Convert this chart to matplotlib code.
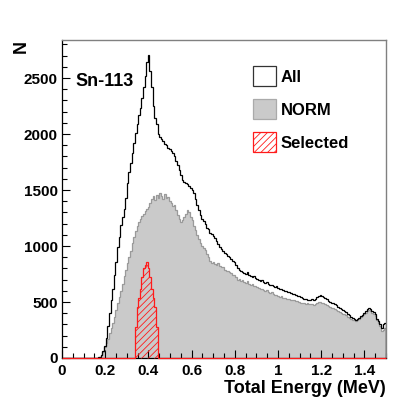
import numpy as np
import matplotlib
matplotlib.use("Agg")
import matplotlib.pyplot as plt
from matplotlib.patches import Patch

# ---------------- data ----------------
e_min, e_max, n_bins = 0.0, 1.5, 200   # energy binning (MeV)

all_counts = [0] * 20 + [
    0, 2, 5, 12, 30, 60, 110, 180, 290, 400,
    518, 620, 740, 860, 990, 1080, 1190, 1260, 1330, 1430,
    1560, 1660, 1740, 1830, 1920, 2010, 2090, 2170, 2230, 2320,
    2420, 2520, 2640, 2705, 2560, 2420, 2250, 2140, 2090, 2000,
    1970, 1960, 1935, 1910, 1900, 1880, 1865, 1850, 1830, 1800,
    1760, 1720, 1680, 1635, 1590, 1575, 1560, 1550, 1535, 1520,
    1500, 1475, 1420, 1370, 1320, 1275, 1245, 1220, 1195, 1165,
    1150, 1120, 1110, 1090, 1075, 1045, 1020, 995, 975, 960,
    935, 925, 910, 900, 880, 870, 855, 830, 800, 790,
    775, 770, 760, 750, 765, 745, 735, 725, 730, 715,
    705, 700, 690, 695, 680, 670, 675, 660, 650, 655,
    640, 635, 640, 625, 615, 620, 605, 600, 595, 590,
    585, 580, 570, 575, 560, 555, 550, 545, 540, 530,
    525, 520, 515, 520, 525, 520, 530, 545, 555, 562,
    555, 545, 540, 525, 510, 500, 495, 488, 480, 470,
    455, 450, 440, 430, 420, 410, 395, 385, 370, 360,
    345, 340, 350, 360, 375, 385, 400, 420, 440, 446,
    435, 420, 410, 390, 350, 330, 300, 270, 300, 310,
]

norm_counts = [0] * 20 + [
    0, 0, 2, 8, 25, 50, 95, 130, 170, 220,
    265, 310, 370, 430, 490, 545, 600, 660, 730, 790,
    850, 900, 960, 1030, 1080, 1130, 1180, 1215, 1240, 1265,
    1290, 1310, 1330, 1350, 1380, 1420, 1445, 1410, 1460, 1430,
    1470, 1445, 1420, 1465, 1430, 1440, 1400, 1380, 1360, 1370,
    1320, 1280, 1240, 1215, 1230, 1260, 1290, 1320, 1300, 1260,
    1230, 1180, 1140, 1100, 1060, 1030, 1000, 985, 965, 930,
    900, 870, 845, 860, 840, 830, 845, 820, 815, 810,
    790, 780, 775, 770, 755, 745, 740, 720, 700, 705,
    690, 695, 680, 670, 685, 665, 655, 660, 645, 640,
    630, 625, 615, 620, 607, 600, 605, 590, 580, 585,
    570, 560, 565, 550, 545, 550, 540, 535, 530, 525,
    530, 520, 515, 520, 510, 505, 500, 495, 495, 490,
    485, 488, 480, 485, 478, 475, 485, 495, 503, 500,
    495, 490, 480, 470, 460, 455, 450, 444, 440, 430,
    420, 415, 405, 395, 390, 380, 370, 360, 350, 340,
    335, 330, 340, 350, 365, 375, 390, 405, 420, 429,
    420, 405, 395, 375, 340, 315, 285, 240, 250, 270,
]

selected_counts = [0] * 45 + [
    280, 455, 535, 620, 725, 800, 830, 860, 800, 725, 620, 535, 455, 280,
] + [0] * 141

x_ticks = [0, 0.2, 0.4, 0.6, 0.8, 1.0, 1.2, 1.4]
x_tick_labels = ["0", "0.2", "0.4", "0.6", "0.8", "1", "1.2", "1.4"]
y_ticks = [0, 500, 1000, 1500, 2000, 2500]
y_tick_labels = ["0", "500", "1000", "1500", "2000", "2500"]
legend_labels = ["All", "NORM", "Selected"]
source_label = "Sn-113"

# ---------------- plot ----------------
plt.rcParams["font.family"] = ["Liberation Sans", "DejaVu Sans"]
plt.rcParams["font.weight"] = "bold"
plt.rcParams["hatch.linewidth"] = 0.6

fig = plt.figure(figsize=(4.15, 3.99), dpi=100)
ax = fig.add_axes([0.1494, 0.1028, 0.7806, 0.7969])

edges = np.linspace(e_min, e_max, n_bins + 1)
grey_fill = "#cacaca"
grey_line = "#9a9a9a"

ax.stairs(norm_counts, edges, fill=True, color=grey_fill, zorder=1)
ax.stairs(norm_counts, edges, color=grey_line, lw=0.9, zorder=2)
ax.stairs(all_counts, edges, color="black", lw=0.9, zorder=3)
ax.stairs(selected_counts, edges, fill=True, facecolor="none",
          edgecolor="#ff1a1a", hatch="/////", lw=0.9, zorder=4, clip_on=False)

ax.set_xlim(0, 1.5)
ax.set_ylim(0, 2840)

ax.set_xticks(x_ticks)
ax.set_xticklabels(x_tick_labels)
ax.set_yticks(y_ticks)
ax.set_yticklabels(y_tick_labels)
ax.set_xticks(np.arange(0, 1.5001, 0.05), minor=True)
ax.set_yticks(np.arange(0, 2801, 100), minor=True)

ax.tick_params(axis="both", which="both", direction="in", top=False, right=False,
               labelsize=11, width=0.8)
ax.tick_params(axis="both", which="major", length=6, pad=3)
ax.tick_params(axis="both", which="minor", length=3.5)
ax.tick_params(axis="x", which="major", pad=4)

for side in ("top", "right"):
    ax.spines[side].set_color("#808080")
    ax.spines[side].set_linewidth(1.0)
for side in ("left", "bottom"):
    ax.spines[side].set_color("black")
    ax.spines[side].set_linewidth(0.9)

ax.set_xlabel("Total Energy (MeV)", fontsize=13, fontweight="bold", loc="right",
              labelpad=2)
ax.set_ylabel("N", fontsize=13, fontweight="bold", loc="top")
ax.yaxis.set_label_coords(-0.1, 1.0)

ax.text(0.04, 0.87, source_label, transform=ax.transAxes, fontsize=13,
        fontweight="bold", va="center", ha="left")

handles = [
    Patch(facecolor="white", edgecolor="#333333", lw=0.9),
    Patch(facecolor=grey_fill, edgecolor="#aaaaaa", lw=0.9),
    Patch(facecolor="white", edgecolor="#ff1a1a", hatch="/////", lw=0.9),
]
leg = ax.legend(handles, legend_labels, loc="upper left",
                bbox_to_anchor=(0.59, 0.918), frameon=False,
                prop={"size": 12, "weight": "bold"},
                handlelength=1.35, handleheight=1.45, handletextpad=0.3,
                labelspacing=0.8, borderpad=0, borderaxespad=0)

fig.savefig("out.png", dpi=100)
